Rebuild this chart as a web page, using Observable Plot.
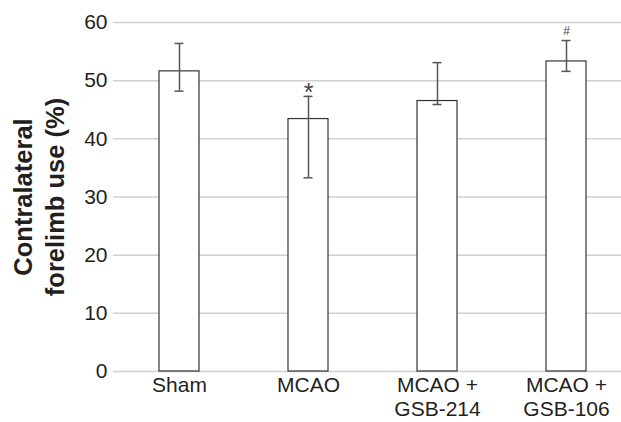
<!DOCTYPE html>
<html>
<head>
<meta charset="utf-8">
<script src="https://cdn.jsdelivr.net/npm/d3@7"></script>
<script src="https://cdn.jsdelivr.net/npm/@observablehq/plot@0.6"></script>
<style>
  html, body { margin: 0; padding: 0; background: #fff; }
  svg { display: block; }
</style>
</head>
<body>
<div id="chart"></div>
<script>
const groups = ["Sham", "MCAO", "MCAO +\nGSB-214", "MCAO +\nGSB-106"];
const means = [51.6, 43.4, 46.5, 53.3];
const errLow = [48.2, 33.3, 45.9, 51.6];
const errHigh = [56.4, 47.3, 53.1, 56.9];
const marks = ["", "*", "", "#"];
const yTicks = [0, 10, 20, 30, 40, 50, 60];

const data = groups.map((g, i) => ({group: g, mean: means[i], lo: errLow[i], hi: errHigh[i], mark: marks[i]}));

const font = "'Liberation Sans', Arial, Helvetica, sans-serif";
const textColor = "#231f20";

const chart = Plot.plot({
  width: 621,
  height: 422,
  marginLeft: 113,
  marginRight: 0,
  marginTop: 22,
  marginBottom: 51,
  style: {fontFamily: font, background: "#fff", color: textColor},
  x: {domain: groups, range: [113, 631], paddingInner: 0.69, paddingOuter: 0.35, label: null},
  y: {domain: [0, 60], label: null},
  marks: [
    Plot.ruleY(yTicks, {stroke: "#d0d0d0", strokeWidth: 1.5}),
    Plot.axisY(yTicks, {tickSize: 0, tickPadding: 6, fontSize: 21, fill: textColor, label: null}),
    Plot.axisX({tickSize: 0, tickPadding: 3.5, fontSize: 21, lineHeight: 1.13, fill: textColor, label: null}),
    Plot.barY(data, {x: "group", y: "mean", fill: "#fff", stroke: "#333", strokeWidth: 1.2}),
    Plot.ruleX(data, {x: "group", y1: "lo", y2: "hi", stroke: "#555", strokeWidth: 1.5}),
    Plot.tickY(data, {x: "group", y: "lo", stroke: "#555", strokeWidth: 1.5, insetLeft: 15.5, insetRight: 15.5}),
    Plot.tickY(data, {x: "group", y: "hi", stroke: "#555", strokeWidth: 1.5, insetLeft: 15.5, insetRight: 15.5}),
    Plot.text(data.filter(d => d.mark === "*"), {x: "group", y: "hi", text: "mark", fontSize: 25, fontWeight: 300, fill: "#444", lineAnchor: "middle", dy: -3}),
    Plot.text(data.filter(d => d.mark === "#"), {x: "group", y: "hi", text: "mark", fontSize: 12, fill: "#444", lineAnchor: "middle", dy: -9}),
    Plot.text(["Contralateral"], {frameAnchor: "left", y: [30], text: d => d, rotate: -90, dx: -90, fontSize: 25.5, fontWeight: "bold", fill: textColor, textAnchor: "middle", lineAnchor: "middle"}),
    Plot.text(["forelimb use (%)"], {frameAnchor: "left", y: [30], text: d => d, rotate: -90, dx: -58, fontSize: 25.5, fontWeight: "bold", fill: textColor, textAnchor: "middle", lineAnchor: "middle"})
  ]
});
document.getElementById("chart").appendChild(chart);
</script>
</body>
</html>
